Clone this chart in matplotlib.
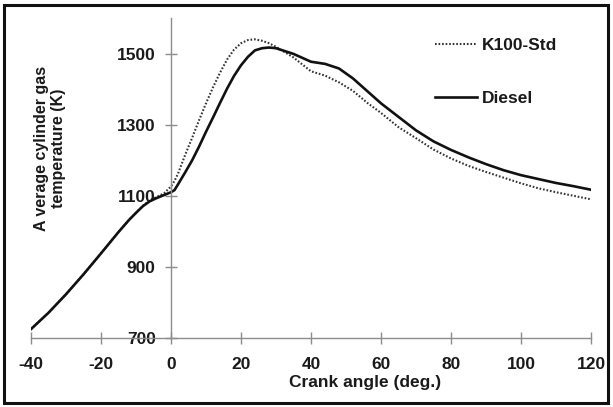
#!/usr/bin/env python3
"""
plot.py - average cylinder gas temperature vs crank angle,
K100-Std against Diesel.
"""
import matplotlib
matplotlib.use("Agg")
import matplotlib.pyplot as plt
from matplotlib.patches import Rectangle


plt.rcParams["font.family"] = ["Liberation Sans", "DejaVu Sans"]
plt.rcParams["font.weight"] = "bold"
plt.rcParams["axes.unicode_minus"] = False

CRANK_ANGLE = [-40, -35, -30, -25, -20, -15, -12, -10, -8, -6, -4, -2, 0, 1,
               2, 4, 6, 8, 10, 12, 14, 16, 18, 20, 22, 24, 26, 28, 30, 35, 40,
               44, 48, 52, 56, 60, 65, 70, 75, 80, 85, 90, 95, 100, 105, 110,
               115, 120]

T_DIESEL = [725, 771, 823, 879, 938, 998, 1032, 1052, 1071, 1085, 1094, 1102,
            1110, 1116, 1132, 1165, 1199, 1238, 1280, 1320, 1361, 1401, 1437,
            1467, 1491, 1509, 1515, 1517, 1515, 1499, 1477, 1471, 1458, 1430,
            1395, 1360, 1322, 1284, 1253, 1229, 1208, 1189, 1172, 1158, 1147,
            1136, 1127, 1117]

T_K100 = [725, 771, 823, 879, 938, 998, 1032, 1052, 1072, 1088, 1097, 1107,
          1126, 1142, 1162, 1214, 1262, 1312, 1360, 1405, 1446, 1483, 1511,
          1529, 1538, 1540, 1536, 1529, 1519, 1489, 1450, 1438, 1419, 1395,
          1362, 1333, 1293, 1262, 1230, 1205, 1184, 1167, 1151, 1135, 1121,
          1110, 1100, 1090]

X_TICKS = [-40, -20, 0, 20, 40, 60, 80, 100, 120]
Y_TICKS = [700, 900, 1100, 1300, 1500]

FS = 12.5
SPINE = "#8c8c8c"


def main():
    fig = plt.figure(figsize=(6.13, 4.07), dpi=100)
    ax = fig.add_axes([31 / 613, 1 - 338 / 407, 560 / 613, 320 / 407])

    ax.plot(CRANK_ANGLE, T_K100, color="#333333", lw=1.5,
            linestyle=(0, (0.8, 0.9)), label="K100-Std")
    ax.plot(CRANK_ANGLE, T_DIESEL, color="#111111", lw=1.9, label="Diesel")

    ax.set_xlim(-40, 120)
    ax.set_ylim(700, 1600)
    ax.set_xticks(X_TICKS)
    ax.set_yticks(Y_TICKS)

    # y axis sits at crank angle 0, x axis at 700 K
    ax.spines["left"].set_position(("data", 0))
    ax.spines["bottom"].set_position(("data", 700))
    ax.spines["top"].set_visible(False)
    ax.spines["right"].set_visible(False)
    for side in ("left", "bottom"):
        ax.spines[side].set_color(SPINE)
        ax.spines[side].set_linewidth(1.0)

    ax.tick_params(axis="both", direction="inout", length=8, width=1.0,
                   color=SPINE, labelsize=FS, labelcolor="#1a1a1a")
    ax.tick_params(axis="y", pad=7)
    ax.tick_params(axis="x", pad=10)
    for lab in ax.get_xticklabels() + ax.get_yticklabels():
        lab.set_fontweight("bold")

    fig.text(365 / 613, 1 - 383 / 407, "Crank angle (deg.)", ha="center",
             va="center", fontsize=FS, fontweight="bold", color="#1a1a1a")
    fig.text(50 / 613, 1 - 148 / 407,
             "A verage cylinder gas\ntemperature (K)", rotation=90,
             ha="center", va="center", multialignment="center",
             fontsize=11.5, fontweight="bold", color="#1a1a1a",
             linespacing=1.15)

    leg = ax.legend(loc="upper left",
                    bbox_to_anchor=(435 / 613, 1 - 38 / 407),
                    bbox_transform=fig.transFigure, frameon=False,
                    borderpad=0, borderaxespad=0, handlelength=2.4,
                    handletextpad=0.3, labelspacing=2.18,
                    prop={"size": FS, "weight": "bold"})
    for t in leg.get_texts():
        t.set_color("#1a1a1a")

    fig.patches.append(Rectangle((4 / 613, 4 / 407), 604 / 613, 398 / 407,
                                 transform=fig.transFigure, fill=False,
                                 edgecolor="#111111", linewidth=2.2))

    fig.savefig("out.png", dpi=100)
    plt.close(fig)


if __name__ == "__main__":
    main()
